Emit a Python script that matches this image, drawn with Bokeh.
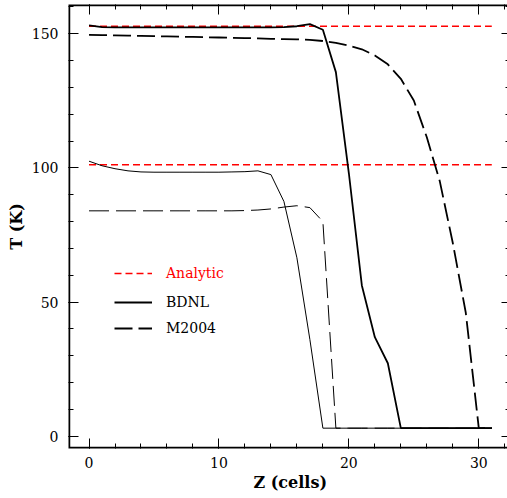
from bokeh.plotting import figure
from bokeh.models import (LinearAxis, SingleIntervalTicker, Range1d, Legend, LegendItem, Title)
from bokeh.embed import file_html
from bokeh.resources import INLINE

# ---- data ----
z = list(range(32))
analytic_z = [0, 31]
analytic_high = [152.8, 152.8]
analytic_low = [101.2, 101.2]

bdnl_high = [153.1, 152.5, 152.4, 152.4, 152.4, 152.4, 152.4, 152.4, 152.4, 152.4,
             152.4, 152.4, 152.4, 152.4, 152.4, 152.5, 152.8, 153.6, 151.5, 135.7,
             98.0, 56.2, 36.9, 27.2, 3.0, 3.0, 3.0, 3.0, 3.0, 3.0, 3.0, 3.0]
bdnl_low = [102.5, 100.8, 99.7, 98.9, 98.5, 98.4, 98.4, 98.4, 98.4, 98.4,
            98.4, 98.5, 98.6, 98.9, 97.5, 87.5, 66.5, 36.0, 3.0, 3.0,
            3.0, 3.0, 3.0, 3.0, 3.0, 3.0, 3.0, 3.0, 3.0, 3.0, 3.0, 3.0]
m2004_high = [149.6, 149.5, 149.4, 149.3, 149.2, 149.1, 149.0, 148.9, 148.8, 148.7,
              148.6, 148.5, 148.4, 148.3, 148.1, 148.0, 147.9, 147.7, 147.3, 146.6,
              145.6, 144.2, 141.9, 138.6, 133.2, 125.1, 111.4, 95.0, 72.0, 46.0, 3.0, 3.0]
m2004_low = [84.0, 84.0, 84.0, 84.0, 84.0, 84.0, 84.0, 84.0, 84.0, 84.0,
             84.0, 84.0, 84.1, 84.3, 84.7, 85.4, 85.9, 85.2, 80.0, 3.0,
             3.0, 3.0, 3.0, 3.0, 3.0, 3.0, 3.0, 3.0, 3.0, 3.0, 3.0, 3.0]

x_major = 10
y_major = 50
x_title = "Z (cells)"
y_title = "T (K)"

FONT = "DejaVu Serif"

xr = Range1d(-1.58, 32.21)
yr = Range1d(-4.58, 160.9)

p = figure(width=507, height=498, output_backend="svg", toolbar_location=None,
           x_range=xr, y_range=yr,
           min_border_left=68, min_border_right=0, min_border_top=4, min_border_bottom=50,
           y_axis_label=y_title)
p.outline_line_color = None
p.grid.visible = False
p.background_fill_color = "white"
p.border_fill_color = "white"

bottom = p.below[0]
left = p.left[0]

xt = SingleIntervalTicker(interval=x_major, num_minor_ticks=5)
yt = SingleIntervalTicker(interval=y_major, num_minor_ticks=5)

top = LinearAxis(ticker=xt)
right = LinearAxis(ticker=yt)
p.add_layout(top, "above")
p.add_layout(right, "right")

for ax, tk in ((bottom, xt), (left, yt), (top, xt), (right, yt)):
    ax.ticker = tk
    ax.major_tick_in = 10
    ax.major_tick_out = 0
    ax.minor_tick_in = 5
    ax.minor_tick_out = 0
    ax.major_tick_line_color = "black"
    ax.minor_tick_line_color = "black"
    ax.major_tick_line_width = 1
    ax.minor_tick_line_width = 1
    ax.axis_line_color = None
    ax.major_label_text_font = FONT
    ax.major_label_text_font_size = "14px"
    ax.major_label_text_color = "black"
    ax.axis_label_text_font = FONT
    ax.axis_label_text_font_size = "16px"
    ax.axis_label_text_font_style = "bold"
    ax.axis_label_text_color = "black"

bottom.major_label_standoff = 8
left.major_label_standoff = 10
left.axis_label_standoff = 3

for ax in (top, right):
    ax.major_label_overrides = {v: "" for v in range(-50, 200, 10)}
    ax.major_label_text_font_size = "1px"
    ax.major_label_standoff = 0
    ax.axis_label = None
right.major_tick_in = 6
right.minor_tick_in = 2

# frame edges (left, bottom, top), drawn from the range limits
p.line([xr.end, xr.start, xr.start, xr.end], [yr.end, yr.end, yr.start, yr.start],
       line_color="black", line_width=3.5)

r_an1 = p.line(analytic_z, analytic_high, line_color="#ff0000", line_width=1.5, line_dash="7 4")
r_an2 = p.line(analytic_z, analytic_low, line_color="#ff0000", line_width=1.5, line_dash="7 4")
r_bh = p.line(z, bdnl_high, line_color="black", line_width=1.8)
r_bl = p.line(z, bdnl_low, line_color="black", line_width=1.0)
r_mh = p.line(z, m2004_high, line_color="black", line_width=1.8, line_dash="18 6")
r_ml = p.line(z, m2004_low, line_color="black", line_width=1.0, line_dash="20 7")

p.add_layout(Title(text=x_title, align="left", offset=185, standoff=1,
                   text_font=FONT, text_font_size="16px", text_font_style="bold",
                   text_color="black"), "below")

def mk_legend(label, rend, loc, color):
    lg = Legend(items=[LegendItem(label=label, renderers=[rend])], location=loc,
                padding=0, margin=0, spacing=0, border_line_color=None,
                background_fill_alpha=0, glyph_width=38, glyph_height=16,
                label_height=16, label_standoff=14,
                label_text_font=FONT, label_text_font_size="14px",
                label_text_color=color)
    p.add_layout(lg)

mk_legend("Analytic", r_an1, (46, 167), "#ff0000")
mk_legend("BDNL", r_bh, (46, 138), "black")
mk_legend("M2004", r_mh, (46, 112), "black")

open("out.html", "w").write(file_html(p, INLINE))
